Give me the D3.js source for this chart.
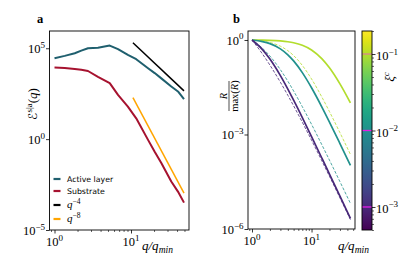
<!DOCTYPE html>
<html>
<head>
<meta charset="utf-8">
<script src="https://cdn.jsdelivr.net/npm/d3@7"></script>
<style>
  body { margin: 0; background: #fff; }
  svg { display: block; }
</style>
</head>
<body>
<div id="chart"></div>
<script>
// ---- data: panel a (spectra) ----
var qA = [1, 1.36, 1.84, 2.24, 2.74, 3.7, 5.27, 6.76, 9.1, 11.7, 16.7, 20.4, 24.9, 33.6, 41.1, 49.3];
var activeLayer = [2.8e4, 3.8e4, 5.3e4, 7.4e4, 1.0e5, 1.07e5, 1.4e5, 8.9e4, 4.3e4, 2.5e4, 8e3, 4.3e3, 2.2e3, 7.8e2, 4.2e2, 1.6e2];
var substrate = [8.6e3, 8.2e3, 7.3e3, 6.6e3, 5.6e3, 2.7e3, 1.2e3, 2.7e2, 62, 14, 0.91, 0.2, 0.048, 0.0047, 1.3e-3, 3.2e-4];
var guideQ = [10.6, 49.3];
var guideQ4 = [2.0e5, 4.5e2];
var guideQ8 = [1.94e2, 1.07e-3];
var legendLabels = ["Active layer", "Substrate", "q^-4", "q^-8"];

// ---- data: panel b (normalised R) ----
var qB = [1, 1.5, 2, 3, 4, 5, 7, 10, 15, 20, 30, 45];
var xiValues = [0.1, 0.01, 0.001];
var solidR = [
  [1, 0.989, 0.974, 0.933, 0.879, 0.817, 0.680, 0.484, 0.252, 0.131, 0.0404, 0.0101],
  [1, 0.890, 0.765, 0.523, 0.339, 0.2167, 0.0920, 0.0304, 0.00728, 0.00248, 5.16e-4, 1.045e-4],
  [1, 0.497, 0.249, 0.0740, 0.0276, 0.01227, 0.00344, 8.6e-4, 1.735e-4, 5.53e-5, 1.10e-5, 2.18e-6]
];
var dashedR = [
  [1, 0.925, 0.833, 0.635, 0.458, 0.321, 0.156, 0.058, 0.0151, 0.00532, 0.00114, 2.33e-4],
  [1, 0.547, 0.310, 0.114, 0.0492, 0.0241, 0.00764, 0.00211, 4.61e-4, 1.535e-4, 3.18e-5, 6.5e-6],
  [1, 0.360, 0.1595, 0.0455, 0.01756, 0.00813, 0.00245, 6.59e-4, 1.425e-4, 4.72e-5, 9.76e-6, 1.99e-6]
];
var cbarDomain = [5e-4, 0.2];

var W = 413, H = 261;
var serif = "'Liberation Serif', 'DejaVu Serif', serif";
var sans = "'DejaVu Sans', sans-serif";

var svg = d3.select("#chart").append("svg")
  .attr("width", W).attr("height", H);

function powLabel(g, x, y, exp, anchor) {
  var t = g.append("text").attr("x", x).attr("y", y)
    .attr("text-anchor", anchor)
    .attr("font-family", serif).attr("font-size", 12.5).attr("fill", "#000");
  t.append("tspan").text("10");
  t.append("tspan").attr("dy", -5.5).attr("font-size", 9)
    .text(exp < 0 ? "\u2212" + (-exp) : String(exp));
}

function minorTicks(domain) {
  var out = [];
  for (var e = -1; e <= 2; e++) {
    for (var m = 2; m <= 9; m++) {
      var v = m * Math.pow(10, e);
      if (v >= domain[0] && v <= domain[1]) out.push(v);
    }
  }
  return out;
}

function frame(g, x, y) {
  var r = x.range(), s = y.range();
  g.append("rect")
    .attr("x", r[0]).attr("y", s[1])
    .attr("width", r[1] - r[0]).attr("height", s[0] - s[1])
    .attr("fill", "none").attr("stroke", "#000").attr("stroke-width", 0.9);
}

function xAxisLog(g, x, y0) {
  var major = [1, 10];
  g.append("g").attr("transform", "translate(0," + y0 + ")")
    .call(d3.axisBottom(x).tickValues(major).tickSize(3.5).tickFormat(""))
    .call(function(a) { a.select(".domain").remove(); a.selectAll("line").attr("stroke-width", 0.8); });
  g.append("g").attr("transform", "translate(0," + y0 + ")")
    .call(d3.axisBottom(x).tickValues(minorTicks(x.domain())).tickSize(2).tickFormat(""))
    .call(function(a) { a.select(".domain").remove(); a.selectAll("line").attr("stroke-width", 0.6); });
  major.forEach(function(v, i) { powLabel(g, x(v), y0 + 16, i, "middle"); });
}

function yAxisLog(g, y, x0, exps) {
  var vals = exps.map(function(e) { return Math.pow(10, e); });
  g.append("g").attr("transform", "translate(" + x0 + ",0)")
    .call(d3.axisLeft(y).tickValues(vals).tickSize(3.5).tickFormat(""))
    .call(function(a) { a.select(".domain").remove(); a.selectAll("line").attr("stroke-width", 0.8); });
  exps.forEach(function(e) { powLabel(g, x0 - 4.5, y(Math.pow(10, e)) + 5, e, "end"); });
}

// ================= panel a =================
var xA = d3.scaleLog().domain([0.86, 57.3]).range([49.5, 189]);
var yA = d3.scaleLog().domain([1e-5, 8.9e5]).range([230, 31]);
var gA = svg.append("g");

var lineA = d3.line()
  .x(function(d) { return xA(d[0]); })
  .y(function(d) { return yA(d[1]); });

var seriesA = [
  { vals: activeLayer, color: "#1f5f6e", w: 2 },
  { vals: substrate, color: "#a6122f", w: 2 }
];
seriesA.forEach(function(s) {
  gA.append("path")
    .datum(qA.map(function(q, i) { return [q, s.vals[i]]; }))
    .attr("fill", "none").attr("stroke", s.color)
    .attr("stroke-width", s.w).attr("stroke-linejoin", "round")
    .attr("d", lineA);
});
gA.append("path")
  .datum(guideQ.map(function(q, i) { return [q, guideQ4[i]]; }))
  .attr("fill", "none").attr("stroke", "#000").attr("stroke-width", 1.5)
  .attr("d", lineA);
gA.append("path")
  .datum(guideQ.map(function(q, i) { return [q, guideQ8[i]]; }))
  .attr("fill", "none").attr("stroke", "#ffa500").attr("stroke-width", 1.5)
  .attr("d", lineA);

frame(gA, xA, yA);
xAxisLog(gA, xA, 230);
yAxisLog(gA, yA, 49.5, [5, 0, -5]);

// legend
var legColors = ["#1f5f6e", "#a6122f", "#000", "#ffa500"];
var legY = [179, 191, 205, 219];
legendLabels.forEach(function(lab, i) {
  gA.append("line")
    .attr("x1", 53.5).attr("x2", 60.5).attr("y1", legY[i]).attr("y2", legY[i])
    .attr("stroke", legColors[i]).attr("stroke-width", 2.2);
  if (lab.indexOf("q^") === 0) {
    var t = gA.append("text").attr("x", 67).attr("y", legY[i] + 3)
      .attr("font-family", serif).attr("font-size", 11).attr("font-style", "italic");
    t.append("tspan").text("q");
    t.append("tspan").attr("dy", -4.5).attr("font-size", 7.5).attr("font-style", "normal")
      .text("\u2212" + lab.split("-")[1]);
  } else {
    gA.append("text").attr("x", 67).attr("y", legY[i] + 3)
      .attr("font-family", sans).attr("font-size", 7.8).text(lab);
  }
});

// axis labels a
var ylA = gA.append("text")
  .attr("transform", "translate(37,104) rotate(-90)")
  .attr("text-anchor", "middle").attr("font-family", serif).attr("font-size", 13);
ylA.append("tspan").attr("font-family", "'DejaVu Sans', sans-serif").attr("font-size", 12).text("\u2130");
ylA.append("tspan").attr("dy", -5.5).attr("font-size", 9).text("s|a");
ylA.append("tspan").attr("dy", 5.5).text("(");
ylA.append("tspan").attr("font-style", "italic").text("q");
ylA.append("tspan").text(")");

function qLabel(g, x, y) {
  var t = g.append("text").attr("x", x).attr("y", y)
    .attr("font-family", serif).attr("font-size", 13).attr("font-style", "italic");
  t.append("tspan").text("q/q");
  t.append("tspan").attr("dy", 2.5).attr("font-size", 9.5).text("min");
}
qLabel(gA, 142, 250);

gA.append("text").attr("x", 37).attr("y", 23)
  .attr("font-family", serif).attr("font-weight", "bold").attr("font-size", 12.5).text("a");

// ================= panel b =================
var xB = d3.scaleLog().domain([0.857, 53.7]).range([248, 355]);
var yB = d3.scaleLog().domain([1e-6, 1.93]).range([229, 31]);
var cScale = d3.scaleLog().domain(cbarDomain).range([0, 1]);
var gB = svg.append("g");

var lineB = d3.line()
  .x(function(d) { return xB(d[0]); })
  .y(function(d) { return yB(d[1]); })
  .curve(d3.curveMonotoneX);

xiValues.forEach(function(xi, k) {
  var col = d3.interpolateViridis(cScale(xi));
  gB.append("path")
    .datum(qB.map(function(q, i) { return [q, dashedR[k][i]]; }))
    .attr("fill", "none").attr("stroke", col).attr("stroke-width", 0.8)
    .attr("stroke-dasharray", "3,1.6").attr("d", lineB);
});
xiValues.forEach(function(xi, k) {
  var col = d3.interpolateViridis(cScale(xi));
  gB.append("path")
    .datum(qB.map(function(q, i) { return [q, solidR[k][i]]; }))
    .attr("fill", "none").attr("stroke", col).attr("stroke-width", 1.7)
    .attr("d", lineB);
});

frame(gB, xB, yB);
xAxisLog(gB, xB, 229);
yAxisLog(gB, yB, 248, [0, -3, -6]);
qLabel(gB, 338, 250);

// y label: R / max(R)
var fr = gB.append("g").attr("transform", "translate(229,96) rotate(-90)")
  .attr("font-family", serif).attr("font-size", 10.5);
fr.append("text").attr("x", 0).attr("y", -2.5).attr("text-anchor", "middle")
  .attr("font-style", "italic").text("R");
fr.append("line").attr("x1", -15).attr("x2", 15).attr("y1", 0).attr("y2", 0)
  .attr("stroke", "#000").attr("stroke-width", 0.7);
var den = fr.append("text").attr("x", 0).attr("y", 9).attr("text-anchor", "middle");
den.append("tspan").text("max(");
den.append("tspan").attr("font-style", "italic").text("R");
den.append("tspan").text(")");

gB.append("text").attr("x", 233).attr("y", 23)
  .attr("font-family", serif).attr("font-weight", "bold").attr("font-size", 12.5).text("b");

// ================= colorbar =================
var cbY = d3.scaleLog().domain(cbarDomain).range([230, 31]);
var cbX0 = 362, cbX1 = 372;
var defs = svg.append("defs");
var grad = defs.append("linearGradient").attr("id", "viridisGrad")
  .attr("x1", 0).attr("y1", 1).attr("x2", 0).attr("y2", 0);
d3.range(0, 1.0001, 0.05).forEach(function(t) {
  grad.append("stop").attr("offset", t).attr("stop-color", d3.interpolateViridis(t));
});
var gC = svg.append("g");
gC.append("rect").attr("x", cbX0).attr("y", 31).attr("width", cbX1 - cbX0).attr("height", 199)
  .attr("fill", "url(#viridisGrad)");

var markColors = ["#d9848c", "#e21ee6", "#e21ee6"];
xiValues.forEach(function(xi, k) {
  gC.append("line").attr("x1", cbX0).attr("x2", cbX1)
    .attr("y1", cbY(xi)).attr("y2", cbY(xi))
    .attr("stroke", markColors[k]).attr("stroke-width", 1.3);
});
gC.append("rect").attr("x", cbX0).attr("y", 31).attr("width", cbX1 - cbX0).attr("height", 199)
  .attr("fill", "none").attr("stroke", "#000").attr("stroke-width", 0.9);

var cbMinor = [];
[-4, -3, -2, -1].forEach(function(e) {
  for (var m = 2; m <= 9; m++) {
    var v = m * Math.pow(10, e);
    if (v >= cbarDomain[0] && v <= cbarDomain[1]) cbMinor.push(v);
  }
});
gC.append("g").attr("transform", "translate(" + cbX1 + ",0)")
  .call(d3.axisRight(cbY).tickValues(cbMinor).tickSize(2).tickFormat(""))
  .call(function(a) { a.select(".domain").remove(); a.selectAll("line").attr("stroke-width", 0.6); });
gC.append("g").attr("transform", "translate(" + cbX1 + ",0)")
  .call(d3.axisRight(cbY).tickValues(xiValues).tickSize(3.5).tickFormat(""))
  .call(function(a) { a.select(".domain").remove(); a.selectAll("line").attr("stroke-width", 0.8); });
[-1, -2, -3].forEach(function(e) {
  powLabel(gC, 376, cbY(Math.pow(10, e)) + 6, e, "start");
});

var cl = gC.append("text").attr("transform", "translate(394,77) rotate(-90)")
  .attr("text-anchor", "middle").attr("font-family", serif).attr("font-size", 13)
  .attr("font-style", "italic");
cl.append("tspan").text("\u03be");
cl.append("tspan").attr("dy", -5).attr("font-size", 9).text("c");
</script>
</body>
</html>
